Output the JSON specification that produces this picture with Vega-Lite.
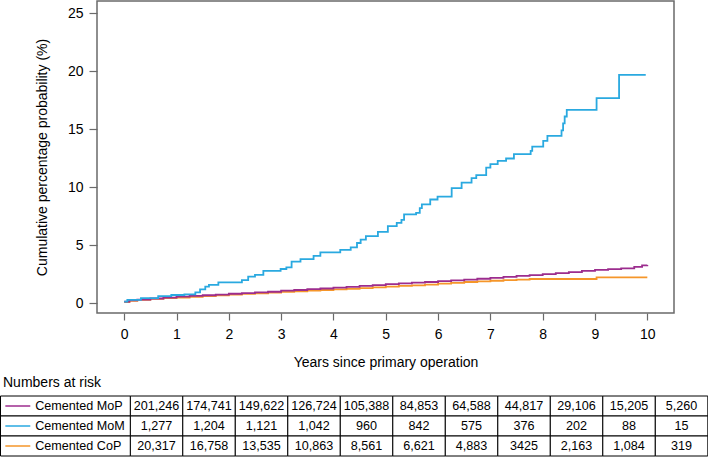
{
  "$schema": "https://vega.github.io/schema/vega-lite/v6.json",
  "padding": 0,
  "background": "white",
  "spacing": 5,
  "config": {
    "font": "Liberation Sans",
    "view": {"stroke": null},
    "axis": {"labelFont": "Liberation Sans", "titleFont": "Liberation Sans", "labelFontSize": 14, "titleFontSize": 14, "titleFontWeight": "normal", "labelColor": "black", "titleColor": "black", "tickColor": "#6a6a6a", "tickWidth": 1.2, "domain": false, "grid": false},
    "title": {"font": "Liberation Sans", "fontSize": 14, "fontWeight": "normal", "color": "black"}
  },
  "vconcat": [
    {
      "width": 577,
      "height": 312,
      "view": {"stroke": "#6a6a6a", "strokeWidth": 1.5},
      "data": {"values": [
        {"series":"Cemented CoP","year":0,"pct":0.1},{"series":"Cemented CoP","year":0.1,"pct":0.22},{"series":"Cemented CoP","year":0.25,"pct":0.3},{"series":"Cemented CoP","year":0.5,"pct":0.38},{"series":"Cemented CoP","year":0.75,"pct":0.45},{"series":"Cemented CoP","year":1,"pct":0.5},{"series":"Cemented CoP","year":1.25,"pct":0.56},{"series":"Cemented CoP","year":1.5,"pct":0.62},{"series":"Cemented CoP","year":1.75,"pct":0.68},{"series":"Cemented CoP","year":2,"pct":0.76},{"series":"Cemented CoP","year":2.25,"pct":0.82},{"series":"Cemented CoP","year":2.5,"pct":0.87},{"series":"Cemented CoP","year":2.75,"pct":0.93},{"series":"Cemented CoP","year":3,"pct":1.0},{"series":"Cemented CoP","year":3.25,"pct":1.04},{"series":"Cemented CoP","year":3.5,"pct":1.1},{"series":"Cemented CoP","year":3.75,"pct":1.15},{"series":"Cemented CoP","year":4,"pct":1.2},{"series":"Cemented CoP","year":4.25,"pct":1.25},{"series":"Cemented CoP","year":4.5,"pct":1.32},{"series":"Cemented CoP","year":4.75,"pct":1.38},{"series":"Cemented CoP","year":5,"pct":1.45},{"series":"Cemented CoP","year":5.25,"pct":1.5},{"series":"Cemented CoP","year":5.5,"pct":1.55},{"series":"Cemented CoP","year":5.75,"pct":1.62},{"series":"Cemented CoP","year":6,"pct":1.7},{"series":"Cemented CoP","year":6.25,"pct":1.76},{"series":"Cemented CoP","year":6.5,"pct":1.84},{"series":"Cemented CoP","year":6.75,"pct":1.9},{"series":"Cemented CoP","year":7,"pct":1.95},{"series":"Cemented CoP","year":7.25,"pct":2.0},{"series":"Cemented CoP","year":7.5,"pct":2.05},{"series":"Cemented CoP","year":7.75,"pct":2.1},{"series":"Cemented CoP","year":9.03,"pct":2.24},{"series":"Cemented CoP","year":10,"pct":2.24},
        {"series":"Cemented MoP","year":0,"pct":0.15},{"series":"Cemented MoP","year":0.1,"pct":0.25},{"series":"Cemented MoP","year":0.25,"pct":0.33},{"series":"Cemented MoP","year":0.5,"pct":0.42},{"series":"Cemented MoP","year":0.75,"pct":0.5},{"series":"Cemented MoP","year":1,"pct":0.58},{"series":"Cemented MoP","year":1.25,"pct":0.64},{"series":"Cemented MoP","year":1.5,"pct":0.7},{"series":"Cemented MoP","year":1.75,"pct":0.76},{"series":"Cemented MoP","year":2,"pct":0.83},{"series":"Cemented MoP","year":2.25,"pct":0.89},{"series":"Cemented MoP","year":2.5,"pct":0.95},{"series":"Cemented MoP","year":2.75,"pct":1.0},{"series":"Cemented MoP","year":3,"pct":1.1},{"series":"Cemented MoP","year":3.25,"pct":1.15},{"series":"Cemented MoP","year":3.5,"pct":1.22},{"series":"Cemented MoP","year":3.75,"pct":1.28},{"series":"Cemented MoP","year":4,"pct":1.36},{"series":"Cemented MoP","year":4.25,"pct":1.42},{"series":"Cemented MoP","year":4.5,"pct":1.5},{"series":"Cemented MoP","year":4.75,"pct":1.57},{"series":"Cemented MoP","year":5,"pct":1.66},{"series":"Cemented MoP","year":5.25,"pct":1.72},{"series":"Cemented MoP","year":5.5,"pct":1.78},{"series":"Cemented MoP","year":5.75,"pct":1.84},{"series":"Cemented MoP","year":6,"pct":1.92},{"series":"Cemented MoP","year":6.25,"pct":1.98},{"series":"Cemented MoP","year":6.5,"pct":2.05},{"series":"Cemented MoP","year":6.75,"pct":2.12},{"series":"Cemented MoP","year":7,"pct":2.2},{"series":"Cemented MoP","year":7.25,"pct":2.28},{"series":"Cemented MoP","year":7.5,"pct":2.36},{"series":"Cemented MoP","year":7.75,"pct":2.44},{"series":"Cemented MoP","year":8,"pct":2.52},{"series":"Cemented MoP","year":8.25,"pct":2.6},{"series":"Cemented MoP","year":8.5,"pct":2.7},{"series":"Cemented MoP","year":8.75,"pct":2.8},{"series":"Cemented MoP","year":9,"pct":2.88},{"series":"Cemented MoP","year":9.25,"pct":2.95},{"series":"Cemented MoP","year":9.5,"pct":3.02},{"series":"Cemented MoP","year":9.75,"pct":3.15},{"series":"Cemented MoP","year":9.9,"pct":3.28},{"series":"Cemented MoP","year":10,"pct":3.3},
        {"series":"Cemented MoM","year":0,"pct":0.15},{"series":"Cemented MoM","year":0.06,"pct":0.3},{"series":"Cemented MoM","year":0.32,"pct":0.45},{"series":"Cemented MoM","year":0.65,"pct":0.62},{"series":"Cemented MoM","year":0.9,"pct":0.72},{"series":"Cemented MoM","year":1.15,"pct":0.78},{"series":"Cemented MoM","year":1.36,"pct":0.95},{"series":"Cemented MoM","year":1.45,"pct":1.2},{"series":"Cemented MoM","year":1.55,"pct":1.45},{"series":"Cemented MoM","year":1.62,"pct":1.6},{"series":"Cemented MoM","year":1.8,"pct":1.8},{"series":"Cemented MoM","year":2.25,"pct":2.0},{"series":"Cemented MoM","year":2.37,"pct":2.3},{"series":"Cemented MoM","year":2.5,"pct":2.45},{"series":"Cemented MoM","year":2.66,"pct":2.8},{"series":"Cemented MoM","year":2.99,"pct":2.96},{"series":"Cemented MoM","year":3.1,"pct":3.1},{"series":"Cemented MoM","year":3.2,"pct":3.6},{"series":"Cemented MoM","year":3.37,"pct":3.82},{"series":"Cemented MoM","year":3.62,"pct":4.1},{"series":"Cemented MoM","year":3.75,"pct":4.39},{"series":"Cemented MoM","year":4.13,"pct":4.6},{"series":"Cemented MoM","year":4.33,"pct":4.82},{"series":"Cemented MoM","year":4.45,"pct":5.2},{"series":"Cemented MoM","year":4.52,"pct":5.5},{"series":"Cemented MoM","year":4.62,"pct":5.79},{"series":"Cemented MoM","year":4.85,"pct":6.16},{"series":"Cemented MoM","year":5.04,"pct":6.65},{"series":"Cemented MoM","year":5.21,"pct":6.94},{"series":"Cemented MoM","year":5.3,"pct":7.2},{"series":"Cemented MoM","year":5.35,"pct":7.66},{"series":"Cemented MoM","year":5.58,"pct":7.8},{"series":"Cemented MoM","year":5.65,"pct":8.2},{"series":"Cemented MoM","year":5.69,"pct":8.52},{"series":"Cemented MoM","year":5.85,"pct":8.95},{"series":"Cemented MoM","year":5.99,"pct":9.2},{"series":"Cemented MoM","year":6.26,"pct":9.93},{"series":"Cemented MoM","year":6.45,"pct":10.41},{"series":"Cemented MoM","year":6.64,"pct":10.79},{"series":"Cemented MoM","year":6.73,"pct":11.05},{"series":"Cemented MoM","year":6.92,"pct":11.7},{"series":"Cemented MoM","year":7.0,"pct":12.0},{"series":"Cemented MoM","year":7.14,"pct":12.28},{"series":"Cemented MoM","year":7.3,"pct":12.48},{"series":"Cemented MoM","year":7.45,"pct":12.86},{"series":"Cemented MoM","year":7.77,"pct":13.14},{"series":"Cemented MoM","year":7.8,"pct":13.51},{"series":"Cemented MoM","year":8.01,"pct":14.0},{"series":"Cemented MoM","year":8.09,"pct":14.43},{"series":"Cemented MoM","year":8.36,"pct":14.9},{"series":"Cemented MoM","year":8.39,"pct":15.5},{"series":"Cemented MoM","year":8.42,"pct":16.1},{"series":"Cemented MoM","year":8.46,"pct":16.67},{"series":"Cemented MoM","year":9.03,"pct":17.68},{"series":"Cemented MoM","year":9.46,"pct":19.68},{"series":"Cemented MoM","year":9.97,"pct":19.68}
      ]},
      "mark": {"type": "line", "interpolate": "step-after", "strokeWidth": 1.8},
      "encoding": {
        "x": {"field": "year", "type": "quantitative", "scale": {"domain": [-0.52, 10.51], "nice": false, "zero": false},
              "axis": {"values": [0,1,2,3,4,5,6,7,8,9,10], "tickSize": 7, "labelPadding": 7, "title": "Years since primary operation", "titlePadding": 14}},
        "y": {"field": "pct", "type": "quantitative", "scale": {"domain": [-0.83, 26.05], "nice": false, "zero": false},
              "axis": {"values": [0,5,10,15,20,25], "tickSize": 8, "labelPadding": 6, "title": "Cumulative percentage probability (%)", "titlePadding": 18}},
        "color": {"field": "series", "type": "nominal", "sort": null,
                  "scale": {"domain": ["Cemented MoP","Cemented MoM","Cemented CoP"], "range": ["#9c2d8e","#2aa9e0","#f5962a"]}, "legend": null}
      }
    },
    {
      "width": 577,
      "height": 60,
      "title": {"text": "Numbers at risk", "anchor": "start", "frame": "group", "dx": -94, "offset": 6},
      "data": {"values": [
        {"group":"Cemented MoP","year":0,"n":"201,246"},{"group":"Cemented MoP","year":1,"n":"174,741"},{"group":"Cemented MoP","year":2,"n":"149,622"},{"group":"Cemented MoP","year":3,"n":"126,724"},{"group":"Cemented MoP","year":4,"n":"105,388"},{"group":"Cemented MoP","year":5,"n":"84,853"},{"group":"Cemented MoP","year":6,"n":"64,588"},{"group":"Cemented MoP","year":7,"n":"44,817"},{"group":"Cemented MoP","year":8,"n":"29,106"},{"group":"Cemented MoP","year":9,"n":"15,205"},{"group":"Cemented MoP","year":10,"n":"5,260"},
        {"group":"Cemented MoM","year":0,"n":"1,277"},{"group":"Cemented MoM","year":1,"n":"1,204"},{"group":"Cemented MoM","year":2,"n":"1,121"},{"group":"Cemented MoM","year":3,"n":"1,042"},{"group":"Cemented MoM","year":4,"n":"960"},{"group":"Cemented MoM","year":5,"n":"842"},{"group":"Cemented MoM","year":6,"n":"575"},{"group":"Cemented MoM","year":7,"n":"376"},{"group":"Cemented MoM","year":8,"n":"202"},{"group":"Cemented MoM","year":9,"n":"88"},{"group":"Cemented MoM","year":10,"n":"15"},
        {"group":"Cemented CoP","year":0,"n":"20,317"},{"group":"Cemented CoP","year":1,"n":"16,758"},{"group":"Cemented CoP","year":2,"n":"13,535"},{"group":"Cemented CoP","year":3,"n":"10,863"},{"group":"Cemented CoP","year":4,"n":"8,561"},{"group":"Cemented CoP","year":5,"n":"6,621"},{"group":"Cemented CoP","year":6,"n":"4,883"},{"group":"Cemented CoP","year":7,"n":"3425"},{"group":"Cemented CoP","year":8,"n":"2,163"},{"group":"Cemented CoP","year":9,"n":"1,084"},{"group":"Cemented CoP","year":10,"n":"319"}
      ]},
      "encoding": {
        "y": {"field": "group", "type": "nominal", "sort": null, "scale": {"domain": ["Cemented MoP","Cemented MoM","Cemented CoP"], "paddingInner": 0, "paddingOuter": 0}, "axis": null}
      },
      "layer": [
        {
          "mark": {"type": "rect", "fill": "white", "stroke": "black", "strokeWidth": 1, "xOffset": -26.25, "x2Offset": 26.25},
          "encoding": {
            "x": {"field": "year", "type": "quantitative", "scale": {"domain": [-1.134, 9.856], "nice": false, "zero": false}, "axis": null},
            "x2": {"field": "year"}
          }
        },
        {
          "transform": [{"filter": "datum.year == 0"}],
          "mark": {"type": "rect", "fill": "white", "stroke": "black", "strokeWidth": 1},
          "encoding": {
            "x": {"datum": -2.972, "type": "quantitative"},
            "x2": {"datum": -0.5}
          }
        },
        {
          "transform": [{"filter": "datum.year == 0"}],
          "mark": {"type": "rule", "strokeWidth": 1.5},
          "encoding": {
            "x": {"datum": -2.88, "type": "quantitative"},
            "x2": {"datum": -2.405},
            "color": {"field": "group", "type": "nominal", "scale": {"domain": ["Cemented MoP","Cemented MoM","Cemented CoP"], "range": ["#9c2d8e","#2aa9e0","#f5962a"]}, "legend": null}
          }
        },
        {
          "transform": [{"filter": "datum.year == 0"}],
          "mark": {"type": "text", "align": "left", "baseline": "middle", "fontSize": 12.6, "font": "Liberation Sans", "color": "black"},
          "encoding": {
            "x": {"datum": -2.31, "type": "quantitative"},
            "text": {"field": "group"}
          }
        },
        {
          "mark": {"type": "text", "align": "center", "baseline": "middle", "fontSize": 12.6, "font": "Liberation Sans", "color": "black"},
          "encoding": {
            "x": {"field": "year", "type": "quantitative"},
            "text": {"field": "n"}
          }
        }
      ]
    }
  ]
}
